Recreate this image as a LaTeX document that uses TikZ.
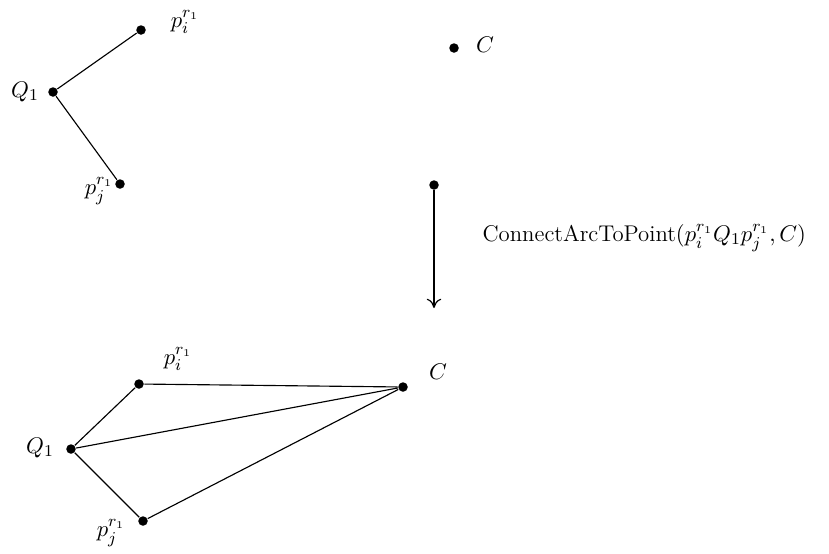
\documentclass[tikz,border=0pt]{standalone}
\usepackage{amsmath,amssymb}
\usetikzlibrary{arrows.meta}

\tikzset{
  pt/.style={circle,fill=black,inner sep=0pt,minimum size=4.6pt},
  lbl/.style={inner sep=1pt,font=\fontsize{11}{13}\selectfont}
}

\begin{document}
\begin{tikzpicture}[x=0.017cm,y=-0.017cm,line width=0.55pt]
  \useasboundingbox (0,0) rectangle (829,553);
  % before
  \node [pt] (q) at (53,92) {};
  \node [pt] (pi) at (141,30) {};
  \node [pt] (pj) at (120,184) {};
  \node [pt] (c) at (454,48) {};
  \node [lbl] (lq) at (25,92) {\(Q_1\)};
  \node [lbl] (lpi) at (185,22) {\(p_i^{r_1}\)};
  \node [lbl] (lpj) at (99,191) {\(p_j^{r_1}\)};
  \node [lbl] (lc) at (485,45) {\(C\)};
  \draw (q) -- (pi);
  \draw (q) -- (pj);

  % step
  \node [pt] (s) at (434,185) {};
  \coordinate (e) at (434,308);
  \draw [-{To[length=4.5pt,width=7pt]}] (s) -- (e);
  \node [lbl,anchor=west] (op) at (480,238)
    {ConnectArcToPoint\((p_i^{r_1}Q_1p_j^{r_1},C)\)};

  % after
  \node [pt] (q2) at (71,449) {};
  \node [pt] (pi2) at (139,384) {};
  \node [pt] (pj2) at (143,521) {};
  \node [pt] (c2) at (403,387) {};
  \node [lbl] (lq2) at (40,448) {\(Q_1\)};
  \node [lbl] (lpi2) at (178,359) {\(p_i^{r_1}\)};
  \node [lbl] (lpj2) at (111,533) {\(p_j^{r_1}\)};
  \node [lbl] (lc2) at (438,372) {\(C\)};
  \draw (q2) -- (pi2) -- (c2);
  \draw (q2) -- (pj2) -- (c2);
  \draw (q2) -- (c2);
\end{tikzpicture}
\end{document}
